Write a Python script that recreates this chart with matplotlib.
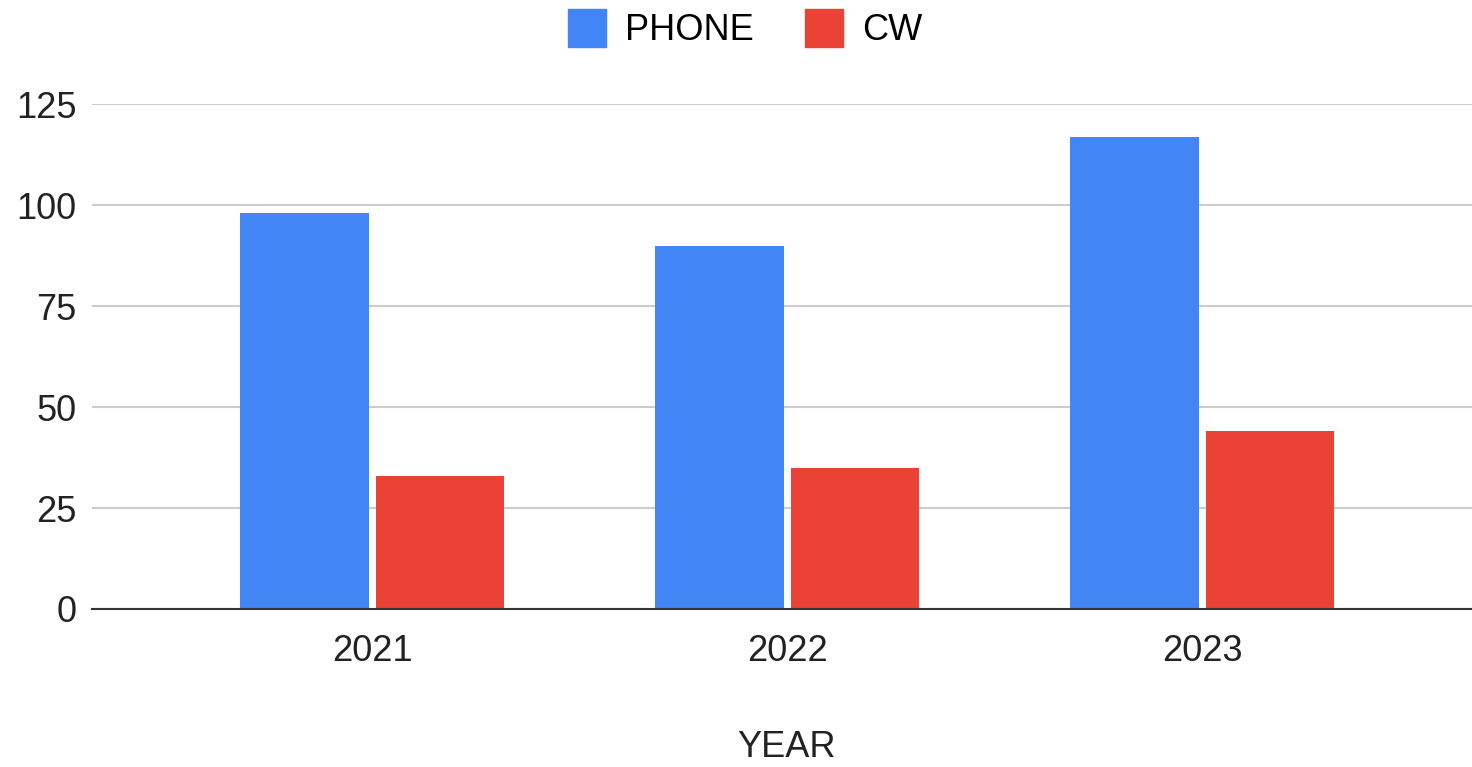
import matplotlib.pyplot as plt
import numpy as np
from matplotlib.lines import Line2D

years = ['2021', '2022', '2023']
phone = [98, 90, 117]
cw = [33, 35, 44]

azul = '#4285F4'
rojo = '#EA4335'

plt.rcParams['font.family'] = ['Liberation Sans', 'DejaVu Sans']

fig = plt.figure(figsize=(14.72, 7.67), dpi=100)
ax = fig.add_axes([0.0625, 0.206, 0.9375, 0.658])

x = np.arange(len(years))
ancho = 0.309
ax.bar(x - 0.163, phone, width=ancho, color=azul, zorder=3)
ax.bar(x + 0.163, cw, width=ancho, color=rojo, zorder=3)

ax.set_xlim(-0.675, 2.65)
ax.set_ylim(0, 125)
ax.set_yticks([0, 25, 50, 75, 100, 125])
ax.set_xticks(x)
ax.set_xticklabels(years)
ax.tick_params(axis='both', length=0, labelsize=26, colors='#222222')
ax.tick_params(axis='x', pad=18)
ax.tick_params(axis='y', pad=11)
ax.grid(axis='y', color='#cccccc', linewidth=1.5, zorder=0)
for s in ['top', 'right', 'left']:
    ax.spines[s].set_visible(False)
ax.spines['bottom'].set_color('#333333')
ax.spines['bottom'].set_linewidth(1.5)
ax.spines['bottom'].set_zorder(4)

# titulo del eje x
fig.text(0.534, 0.025, 'YEAR', fontsize=26, color='#222222', ha='center', va='center')

# leyenda arriba
h = [Line2D([], [], marker='s', linestyle='none', markersize=27, color=azul),
     Line2D([], [], marker='s', linestyle='none', markersize=27, color=rojo)]
fig.legend(h, ['PHONE', 'CW'], loc='upper center', bbox_to_anchor=(0.506, 1.025),
           ncol=2, frameon=False, fontsize=26, handletextpad=0.5,
           columnspacing=1.4, handlelength=1.1)

fig.savefig('out.png', dpi=100, facecolor='white')
